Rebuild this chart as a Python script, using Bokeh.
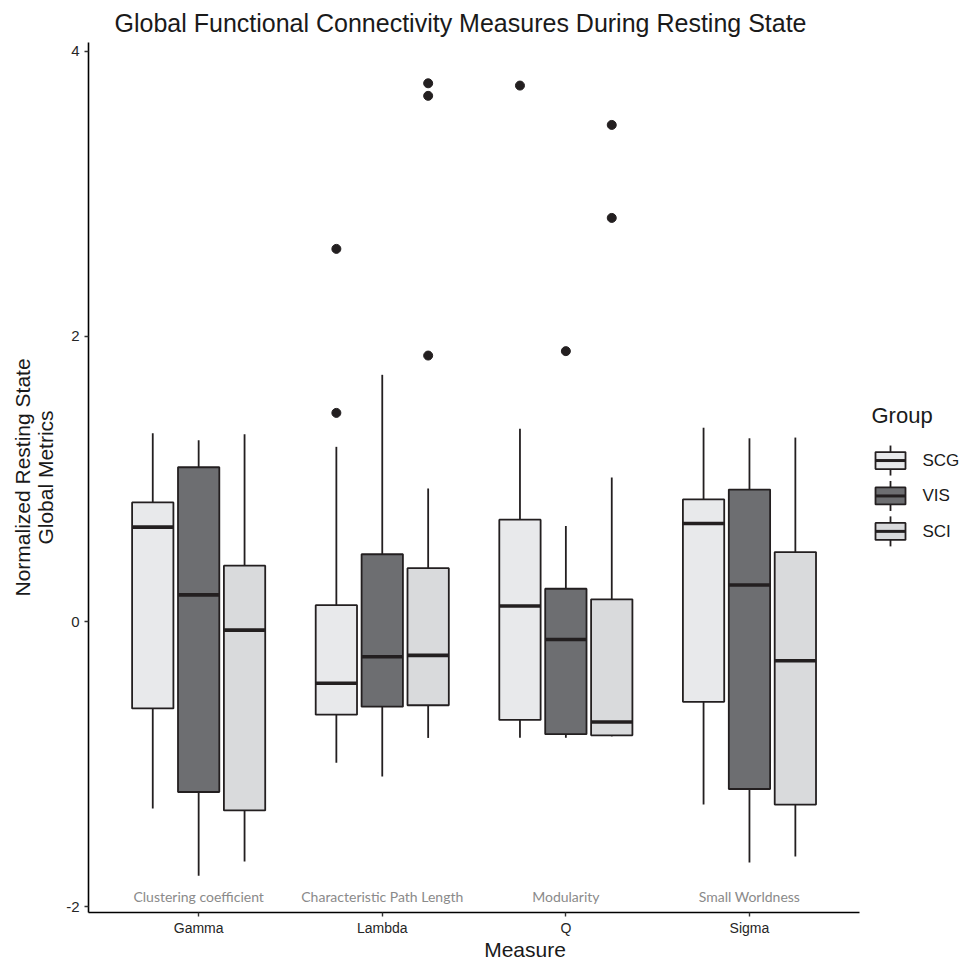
import math
from bokeh.plotting import figure
from bokeh.models import Range1d, FixedTicker, ColumnDataSource, Label
from bokeh.core.properties import value
from bokeh.embed import file_html
from bokeh.resources import INLINE

# ---------------- data ----------------
measures = ["Gamma", "Lambda", "Q", "Sigma"]
sublabels = ["Clustering coefficient", "Characteristic Path Length", "Modularity", "Small Worldness"]
groups = ["SCG", "VIS", "SCI"]
colors = ["#E8E9EB", "#6D6E71", "#D9DADC"]
y_ticks = [-2, 0, 2, 4]

scg_lower = [-1.31, -0.99, -0.815, -1.283]
scg_q1 = [-0.609, -0.653, -0.69, -0.563]
scg_med = [0.662, -0.433, 0.109, 0.687]
scg_q3 = [0.835, 0.115, 0.714, 0.856]
scg_upper = [1.32, 1.225, 1.352, 1.359]

vis_lower = [-1.783, -1.087, -0.815, -1.689]
vis_q1 = [-1.195, -0.597, -0.79, -1.174]
vis_med = [0.187, -0.247, -0.126, 0.256]
vis_q3 = [1.082, 0.472, 0.23, 0.925]
vis_upper = [1.271, 1.73, 0.67, 1.285]

sci_lower = [-1.682, -0.816, -0.805, -1.647]
sci_q1 = [-1.324, -0.587, -0.798, -1.283]
sci_med = [-0.06, -0.237, -0.704, -0.275]
sci_q3 = [0.392, 0.374, 0.156, 0.487]
sci_upper = [1.313, 0.933, 1.01, 1.29]

out_measure = ["Lambda", "Lambda", "Lambda", "Lambda", "Lambda", "Q", "Q", "Q", "Q"]
out_group = ["SCG", "SCG", "SCI", "SCI", "SCI", "SCG", "VIS", "SCI", "SCI"]
out_value = [2.613, 1.463, 3.774, 3.686, 1.865, 3.758, 1.896, 3.482, 2.83]

stats = {
    "SCG": (scg_lower, scg_q1, scg_med, scg_q3, scg_upper),
    "VIS": (vis_lower, vis_q1, vis_med, vis_q3, vis_upper),
    "SCI": (sci_lower, sci_q1, sci_med, sci_q3, sci_upper),
}

# ---------------- layout / style ----------------
FONT = "Liberation Sans"
EDGE = "#231F20"
dodge_step = 0.25
box_w = 0.225

W, H = 961, 963
left_b, top_b, bottom_b = 88, 41, 44
frame_bottom_px = 913                 # expected frame bottom (axis panel needs ~50px)
px_per_x = 183.6                       # pixels per category step
x_start = 0.4
x_end = x_start + (W - left_b) / px_per_x
y_start, y_end = -2.04, 4.06

def px_to_x(px):
    return x_start + (px - left_b) / px_per_x

def px_to_y(py):
    return y_end - (py - top_b) / (frame_bottom_px - top_b) * (y_end - y_start)

p = figure(width=W, height=H,
           x_range=Range1d(x_start, x_end), y_range=Range1d(y_start, y_end),
           output_backend="svg", toolbar_location=None,
           min_border_left=left_b, min_border_right=0, min_border_top=top_b,
           min_border_bottom=bottom_b,
           title="Global Functional Connectivity Measures During Resting State")
p.outline_line_color = None
p.xgrid.visible = False
p.ygrid.visible = False

p.title.text_font = FONT
p.title.text_font_size = "25px"
p.title.text_font_style = "normal"
p.title.text_color = "#1a1a1a"
p.title.text_line_height = 1.0
p.title.align = "left"
p.title.offset = 26
p.title.standoff = 12

def cat_pos(m):
    return measures.index(m) + 1

for gi, g in enumerate(groups):
    lo, q1, med, q3, up = stats[g]
    xs = [cat_pos(m) + (gi - 1) * dodge_step for m in measures]
    src = ColumnDataSource(dict(x=xs, lo=lo, q1=q1, med=med, q3=q3, up=up,
                                x0=[x - box_w / 2 for x in xs], x1=[x + box_w / 2 for x in xs]))
    p.segment(x0="x", y0="q3", x1="x", y1="up", source=src, line_color=EDGE, line_width=1.8)
    p.segment(x0="x", y0="lo", x1="x", y1="q1", source=src, line_color=EDGE, line_width=1.8)
    p.vbar(x="x", width=box_w, top="q3", bottom="q1", source=src,
           fill_color=colors[gi], line_color=EDGE, line_width=1.8)
    p.segment(x0="x0", y0="med", x1="x1", y1="med", source=src, line_color=EDGE, line_width=3.6)

ox = [cat_pos(m) + (groups.index(g) - 1) * dodge_step for m, g in zip(out_measure, out_group)]
p.scatter(x=ox, y=out_value, size=9, fill_color=EDGE, line_color=EDGE)

# measure descriptions near the bottom of the panel
sub_y = -1.93
p.text(x=[cat_pos(m) for m in measures], y=[sub_y] * len(measures), text=sublabels,
       text_align="center", text_baseline="middle", text_font=value("Lato"),
       text_font_size="14px", text_color="#8a8a8a")

# axes
p.xaxis.ticker = FixedTicker(ticks=[cat_pos(m) for m in measures])
p.xaxis.major_label_overrides = {cat_pos(m): m for m in measures}
p.xaxis.bounds = (x_start, x_start + len(measures) + 0.2)
p.yaxis.ticker = FixedTicker(ticks=y_ticks)
p.yaxis.major_label_overrides = {t: str(t) for t in y_ticks}
for ax in (p.xaxis, p.yaxis):
    ax.axis_line_color = "black"
    ax.axis_line_width = 1.6
    ax.major_tick_line_color = "#333333"
    ax.major_tick_line_width = 1.4
    ax.major_tick_out = 4
    ax.major_tick_in = 0
    ax.minor_tick_line_color = None
    ax.major_label_text_font = FONT
    ax.major_label_text_font_size = "14px"
    ax.major_label_text_color = "#262626"
    ax.major_label_text_line_height = 1.0
    ax.axis_label_text_font = FONT
    ax.axis_label_text_font_size = "21px"
    ax.axis_label_text_font_style = "normal"
    ax.axis_label_text_color = "#1a1a1a"
    ax.axis_label_text_line_height = 1.0
p.yaxis.major_label_text_font_size = "15px"
p.xaxis.axis_label = "Measure"
p.xaxis.major_label_standoff = 3
p.xaxis.axis_label_standoff = -1
p.yaxis.axis_label = "Normalized Resting State\nGlobal Metrics"
p.yaxis.axis_label_text_align = "center"
p.yaxis.major_label_standoff = 5
p.yaxis.axis_label_standoff = 6

# ---------------- legend (to the right of the axis bounds) ----------------
leg_key_x, leg_label_x, leg_title_x = px_to_x(890), px_to_x(922), px_to_x(871)
leg_title_y = px_to_y(415)
cys = [px_to_y(460 + i * 35.5) for i in range(len(groups))]
p.scatter(x=[leg_key_x] * 3, y=cys, marker="dash", angle=math.pi / 2, size=30,
          line_color=EDGE, line_width=1.8)
p.rect(x=[leg_key_x] * 3, y=cys, width=30, height=17, width_units="screen", height_units="screen",
       fill_color=colors, line_color=EDGE, line_width=1.8)
p.scatter(x=[leg_key_x] * 3, y=cys, marker="dash", size=30, line_color=EDGE, line_width=3)
for g, cy in zip(groups, cys):
    p.add_layout(Label(x=leg_label_x, y=cy, text=g, text_align="left", text_baseline="middle",
                       text_font=FONT, text_font_size="17px", text_color="#1a1a1a"))
p.add_layout(Label(x=leg_title_x, y=leg_title_y, text="Group", text_align="left",
                   text_baseline="middle", text_font=FONT, text_font_size="22px",
                   text_color="#1a1a1a"))

open("out.html", "w").write(file_html(p, INLINE))
